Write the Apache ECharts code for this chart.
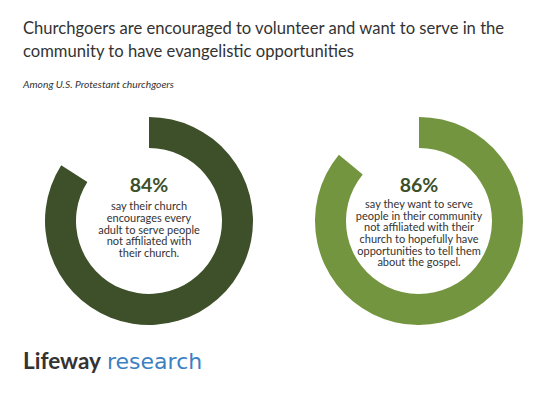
<!DOCTYPE html>
<html>
<head>
<meta charset="utf-8">
<script src="https://cdn.jsdelivr.net/npm/echarts@6/dist/echarts.min.js"></script>
<style>
html,body{margin:0;padding:0;background:#fff;}
#c{width:557px;height:394px;}
</style>
</head>
<body>
<div id="c"></div>
<script>
const titleLines = ['Churchgoers are encouraged to volunteer and want to serve in the', 'community to have evangelistic opportunities'];
const subtitle = 'Among U.S. Protestant churchgoers';
const values = [84, 86];
const labels = ['84%', '86%'];
const descriptions = [
  ['say their church', 'encourages every', 'adult to serve people', 'not affiliated with', 'their church.'],
  ['say they want to serve', 'people in their community', 'not affiliated with their', 'church to hopefully have', 'opportunities to tell them', 'about the gospel.']
];
const colors = ['#3d5029', '#73953f'];

const FONT = 'Lato, "Noto Sans", sans-serif';
const centers = [[149, 221], [419, 221]];

const chart = echarts.init(document.getElementById('c'), null, {renderer: 'svg'});

const series = values.map((v, i) => ({
  type: 'pie',
  silent: true,
  center: centers[i],
  radius: [73, 104],
  startAngle: 90,
  clockwise: true,
  label: {show: false},
  labelLine: {show: false},
  emphasis: {disabled: true},
  data: [
    {value: v, itemStyle: {color: colors[i]}},
    {value: 100 - v, itemStyle: {color: 'rgba(0,0,0,0)'}}
  ]
}));

const graphics = [
  {type: 'text', left: 23, top: 16, style: {text: titleLines.join('\n'), font: '16.6px ' + FONT, fill: '#333333', lineHeight: 23}},
  {type: 'text', left: 23, top: 79, style: {text: subtitle, font: 'italic 10.3px ' + FONT, fill: '#333333'}},
  {type: 'text', left: 23, top: 349, style: {text: 'Lifeway', font: 'bold 22.5px ' + FONT, fill: '#333333'}},
  {type: 'text', left: 107, top: 350, style: {text: 'research', font: '22px "DejaVu Sans", sans-serif', fill: '#3b80c2'}}
];
values.forEach((v, i) => {
  graphics.push({type: 'text', x: centers[i][0], y: 184, style: {text: labels[i], font: 'bold 19.5px ' + FONT, fill: colors[0], align: 'center', verticalAlign: 'middle'}});
  graphics.push({type: 'text', x: centers[i][0], y: i === 0 ? 200 : 197.5, style: {text: descriptions[i].join('\n'), font: '11px ' + FONT, fill: '#333333', align: 'center', verticalAlign: 'top', lineHeight: 11.7}});
});

chart.setOption({
  animation: false,
  backgroundColor: '#ffffff',
  series: series,
  graphic: graphics
});
</script>
</body>
</html>
